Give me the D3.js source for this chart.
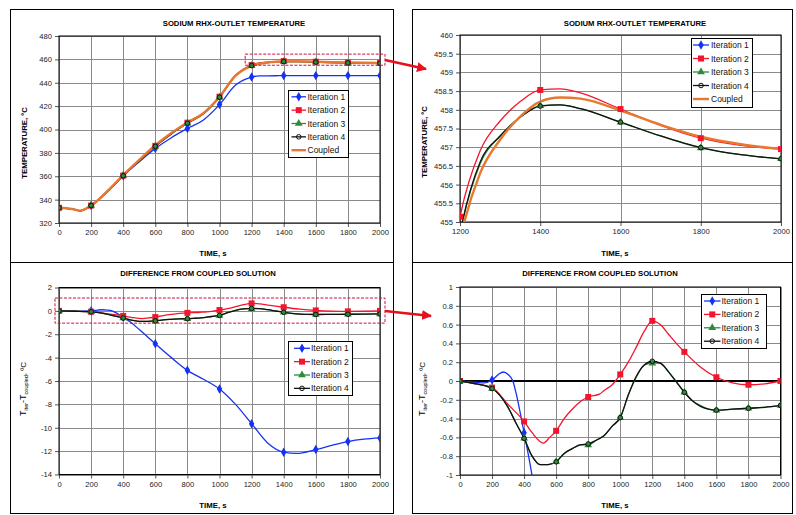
<!DOCTYPE html>
<html><head><meta charset="utf-8">
<script src="https://cdn.jsdelivr.net/npm/d3@7/dist/d3.min.js"></script>
<style>
html,body{margin:0;padding:0;background:#fff;}
svg{display:block;font-family:"Liberation Sans",Arial,sans-serif;}
</style></head>
<body><svg id="c" width="796" height="515"></svg>
<script>
// ---------------- DATA ----------------
const timeTicks = [0,200,400,600,800,1000,1200,1400,1600,1800,2000];
const zoomTimeTicks = [1200,1400,1600,1800,2000];
const tempTicks = [320,340,360,380,400,420,440,460,480];
const zoomTempTicks = [455,455.5,456,456.5,457,457.5,458,458.5,459,459.5,460];
const diffTicks = [2,0,-2,-4,-6,-8,-10,-12,-14];
const zoomDiffTicks = [1,0.8,0.6,0.4,0.2,0,-0.2,-0.4,-0.6,-0.8,-1];
const seriesNames = ["Iteration 1","Iteration 2","Iteration 3","Iteration 4","Coupled"];

// temperatures (s, degC)
const tempT    = [0,100,130,200,300,400,500,600,700,800,900,1000,1100,1200,1250,1300,1350,1400,1450,1500,1600,1700,1800,1900,2000];
const coupledV = [333.0,331.5,330.5,335.0,347.0,361.0,374.0,386.5,397.0,406.0,414.0,428.0,446.0,454.5,456.3,457.2,457.82,458.22,458.33,458.3,457.98,457.6,457.28,457.08,456.95];
const temp1V   = [333.0,331.5,330.5,335.0,347.1,360.5,372.4,383.7,393.0,400.9,408.2,421.3,438.0,444.9,445.8,445.9,446.0,446.1,446.1,446.1,446.1,446.1,446.1,446.1,446.1];
const temp2V   = [333.0,331.47,330.46,334.93,346.75,360.57,373.36,385.97,396.7,405.83,413.9,428.07,446.35,455.14,456.9,457.7,458.22,458.53,458.56,458.45,458.02,457.58,457.24,457.05,456.95];
const temp3V   = [333.0,331.47,330.46,334.92,346.7,360.39,373.11,385.64,396.28,405.32,413.45,427.61,446.05,454.69,456.55,457.3,457.8,458.11,458.13,458.03,457.67,457.3,456.98,456.8,456.69];
const temp4V   = [333.0,331.47,330.46,334.92,346.7,360.39,373.11,385.64,396.28,405.33,413.45,427.6,446.05,454.7,456.6,457.3,457.8,458.1,458.13,458.03,457.67,457.3,456.99,456.8,456.69];

// differences from coupled solution (degC)
const diff1T = [0,100,150,200,240,270,300,330,350,384,400,447,500,600,700,800,900,1000,1100,1200,1300,1400,1480,1600,1700,1800,1900,2000];
const diff1V = [0,-0.015,-0.02,0.01,0.07,0.096,0.07,0.0,-0.13,-0.41,-0.55,-0.98,-1.6,-2.81,-4.0,-5.09,-5.85,-6.68,-8.0,-9.65,-11.3,-12.09,-12.2,-11.87,-11.5,-11.18,-10.98,-10.87];
const diff2T = [0,100,200,300,400,450,520,560,600,650,700,750,800,870,900,950,1000,1050,1100,1150,1200,1250,1300,1350,1400,1500,1600,1700,1800,1900,2000];
const diff2V = [0,-0.03,-0.07,-0.25,-0.43,-0.55,-0.66,-0.6,-0.53,-0.4,-0.3,-0.22,-0.17,-0.14,-0.1,-0.04,0.07,0.2,0.36,0.53,0.64,0.6,0.5,0.4,0.31,0.15,0.04,-0.02,-0.04,-0.03,0.0];
const diff34T = [0,100,200,300,350,400,450,500,550,600,650,700,750,800,850,900,950,1000,1050,1100,1150,1200,1250,1300,1350,1400,1450,1500,1550,1600,1700,1800,1900,2000];
const diff3V = [0,-0.03,-0.08,-0.28,-0.45,-0.61,-0.8,-0.89,-0.89,-0.86,-0.77,-0.72,-0.68,-0.68,-0.63,-0.58,-0.48,-0.39,-0.15,0.04,0.17,0.19,0.19,0.1,-0.01,-0.12,-0.21,-0.26,-0.3,-0.31,-0.3,-0.29,-0.28,-0.26];
const diff4V = [0,-0.03,-0.08,-0.28,-0.45,-0.61,-0.8,-0.89,-0.89,-0.86,-0.77,-0.72,-0.68,-0.67,-0.63,-0.58,-0.48,-0.39,-0.15,0.05,0.17,0.21,0.19,0.1,-0.01,-0.12,-0.21,-0.27,-0.3,-0.31,-0.3,-0.29,-0.28,-0.26];

// ---------------- STYLE ----------------
const styles = {
  "Iteration 1": {color:"#1432f5", w:1.3, sym:"diamond"},
  "Iteration 2": {color:"#f5142d", w:1.3, sym:"square"},
  "Iteration 3": {color:"#2e8b3a", w:1.3, sym:"triangle"},
  "Iteration 4": {color:"#111111", w:1.3, sym:"circle"},
  "Coupled":     {color:"#e8782f", w:2.4, sym:null}
};
const FONT = '"Liberation Sans",Arial,sans-serif';
const svg = d3.select("#c");
svg.append("rect").attr("width",796).attr("height",515).attr("fill","#fff");

function zip(t,v){ return t.map((d,i)=>({t:d,v:v[i]})); }

function drawMarker(g, sym, cx, cy, color){
  if(sym==="diamond"){
    g.append("path").attr("d",d3.symbol(d3.symbolDiamond,26)()).attr("transform",`translate(${cx},${cy})`).attr("fill",color);
  } else if(sym==="square"){
    g.append("rect").attr("x",cx-3).attr("y",cy-3).attr("width",6).attr("height",6).attr("fill",color);
  } else if(sym==="triangle"){
    g.append("path").attr("d",d3.symbol(d3.symbolTriangle,26)()).attr("transform",`translate(${cx},${cy})`).attr("fill",color);
  } else if(sym==="circle"){
    g.append("circle").attr("cx",cx).attr("cy",cy).attr("r",2.3).attr("fill","none").attr("stroke",color).attr("stroke-width",1);
  }
}

let clipId = 0;
function panel(o){
  const g = svg.append("g");
  // panel frame
  g.append("rect").attr("x",o.frame[0]+0.5).attr("y",o.frame[1]+0.5).attr("width",o.frame[2]).attr("height",o.frame[3])
    .attr("fill","none").attr("stroke","#000").attr("stroke-width",1);
  const x = d3.scaleLinear().domain(o.xDom).range([o.x0,o.x1]);
  const y = d3.scaleLinear().domain(o.yDom).range([o.y1,o.y0]);
  // grid
  g.append("g").selectAll("line").data(o.yTicks).join("line")
    .attr("x1",o.x0).attr("x2",o.x1).attr("y1",d=>Math.round(y(d))+0.5).attr("y2",d=>Math.round(y(d))+0.5)
    .attr("stroke","#8a8a8a").attr("stroke-width",1);
  g.append("g").selectAll("line").data(o.xTicks).join("line")
    .attr("y1",o.y0).attr("y2",o.y1).attr("x1",d=>Math.round(x(d))+0.5).attr("x2",d=>Math.round(x(d))+0.5)
    .attr("stroke","#8a8a8a").attr("stroke-width",1);
  // axes
  const ya = g.append("g").attr("transform",`translate(${o.x0},0)`)
    .call(d3.axisLeft(y).tickValues(o.yTicks).tickSize(4).tickPadding(3).tickFormat(o.yFmt||(d=>d)));
  const xa = g.append("g").attr("transform",`translate(0,${o.y1})`)
    .call(d3.axisBottom(x).tickValues(o.xTicks).tickSize(4).tickPadding(3).tickFormat(d=>d));
  [ya,xa].forEach(a=>{
    a.select(".domain").remove();
    a.selectAll(".tick line").attr("stroke","#555");
    a.selectAll("text").attr("font-family",FONT).attr("font-size",7.6).attr("fill","#222");
  });
  if(o.zeroLine){
    g.append("line").attr("x1",o.x0).attr("x2",o.x1).attr("y1",y(0)).attr("y2",y(0)).attr("stroke","#000").attr("stroke-width",2.2);
  }
  // border
  g.append("rect").attr("x",o.x0).attr("y",o.y0).attr("width",o.x1-o.x0).attr("height",o.y1-o.y0)
    .attr("fill","none").attr("stroke","#000").attr("stroke-width",1);
  // clip
  const cid = "clip"+(clipId++);
  g.append("clipPath").attr("id",cid).append("rect").attr("x",o.x0).attr("y",o.y0).attr("width",o.x1-o.x0).attr("height",o.y1-o.y0);
  const dg = g.append("g").attr("clip-path",`url(#${cid})`);
  const line = d3.line().x(d=>x(d.t)).y(d=>y(d.v)).curve(d3.curveMonotoneX);
  o.series.forEach(s=>{
    const st = styles[s.name];
    dg.append("path").datum(zip(s.t,s.v)).attr("d",line).attr("fill","none")
      .attr("stroke",st.color).attr("stroke-width",st.w).attr("stroke-linejoin","round");
  });
  o.series.forEach(s=>{
    const st = styles[s.name];
    if(!st.sym) return;
    zip(s.t,s.v).filter(d=>d.t%200===0 && d.t>=o.xDom[0] && d.t<=o.xDom[1]).forEach(d=>{
      drawMarker(dg, st.sym, x(d.t), y(d.v), st.color);
    });
  });
  // titles
  g.append("text").attr("x",o.title[1]).attr("y",o.title[2]).attr("text-anchor","middle")
    .attr("font-family",FONT).attr("font-size",7.7).attr("font-weight","bold").text(o.title[0]);
  g.append("text").attr("x",o.xTitle[0]).attr("y",o.xTitle[1]).attr("text-anchor","middle")
    .attr("font-family",FONT).attr("font-size",7.8).attr("font-weight","bold").text("TIME, s");
  const yt = g.append("text").attr("transform",`translate(${o.yTitle[0]},${o.yTitle[1]}) rotate(-90)`)
    .attr("text-anchor","middle").attr("font-family",FONT).attr("font-size",7.8).attr("font-weight","bold");
  if(o.diffTitle){
    yt.attr("font-weight","normal");
    yt.append("tspan").attr("font-size",9).text("T");
    yt.append("tspan").attr("font-size",5.5).attr("dy",2).text("iter");
    yt.append("tspan").attr("font-size",9).attr("dy",-2).text("-T");
    yt.append("tspan").attr("font-size",5.5).attr("dy",2).text("coupled");
    yt.append("tspan").attr("font-size",8).attr("dy",-2).text(", ºC");
  } else {
    yt.text("TEMPERATURE, ºC");
  }
  // legend
  const L = o.legend;
  const lg = g.append("g");
  lg.append("rect").attr("x",L.x+0.5).attr("y",L.y+0.5).attr("width",L.w).attr("height",L.h)
    .attr("fill","#fff").attr("stroke","#000").attr("stroke-width",1);
  L.items.forEach((name,i)=>{
    const st = styles[name];
    const cy = L.y + L.first + i*L.step;
    lg.append("line").attr("x1",L.x+L.l0).attr("x2",L.x+L.l1).attr("y1",cy).attr("y2",cy)
      .attr("stroke",st.color).attr("stroke-width",st.w);
    if(st.sym) drawMarker(lg, st.sym, L.x+(L.l0+L.l1)/2, cy, st.color);
    lg.append("text").attr("x",L.x+L.tx).attr("y",cy+3).attr("font-family",FONT).attr("font-size",8.5)
      .attr("fill","#111").text(name);
  });
  return {x,y};
}

const tempSeries = [
  {name:"Iteration 1", t:tempT, v:temp1V},
  {name:"Iteration 2", t:tempT, v:temp2V},
  {name:"Iteration 3", t:tempT, v:temp3V},
  {name:"Iteration 4", t:tempT, v:temp4V},
  {name:"Coupled", t:tempT, v:coupledV}
];
const diffSeries = [
  {name:"Iteration 1", t:diff1T, v:diff1V},
  {name:"Iteration 2", t:diff2T, v:diff2V},
  {name:"Iteration 3", t:diff34T, v:diff3V},
  {name:"Iteration 4", t:diff34T, v:diff4V}
];

const p1 = panel({frame:[10,9,383,253], x0:59,x1:380,y0:36,y1:223, xDom:[0,2000], yDom:[320,480],
  xTicks:timeTicks, yTicks:tempTicks, series:tempSeries,
  title:["SODIUM RHX-OUTLET TEMPERATURE",234,25.5], xTitle:[213,255.5], yTitle:[26.5,143],
  legend:{x:288,y:90,w:60,h:67,items:seriesNames,first:6.8,step:13.35,l0:3.5,l1:18,tx:19.5}});
const p2 = panel({frame:[412,9,380,253], x0:460,x1:781,y0:35,y1:222, xDom:[1200,2000], yDom:[455,460],
  xTicks:zoomTimeTicks, yTicks:zoomTempTicks, yFmt:d=>d, series:tempSeries,
  title:["SODIUM RHX-OUTLET TEMPERATURE",635,25.5], xTitle:[615,255.5], yTitle:[426.5,142],
  legend:{x:691,y:38,w:61,h:69,items:seriesNames,first:7,step:13.5,l0:2,l1:18,tx:20}});
const p3 = panel({frame:[10,262,383,251], x0:59,x1:380,y0:287.5,y1:474.5, xDom:[0,2000], yDom:[-14,2],
  xTicks:timeTicks, yTicks:diffTicks, series:diffSeries, diffTitle:true,
  title:["DIFFERENCE FROM COUPLED SOLUTION",198,276], xTitle:[213,507.5], yTitle:[26,389],
  legend:{x:288,y:341,w:64,h:54,items:seriesNames.slice(0,4),first:7.3,step:13.35,l0:6,l1:22,tx:23}});
const p4 = panel({frame:[412,262,380,251], x0:460,x1:780.5,y0:287,y1:475, xDom:[0,2000], yDom:[-1,1],
  xTicks:timeTicks, yTicks:zoomDiffTicks, series:diffSeries, diffTitle:true, zeroLine:true,
  title:["DIFFERENCE FROM COUPLED SOLUTION",600,276], xTitle:[615,507.5], yTitle:[425,389],
  legend:{x:701,y:294,w:65,h:54,items:seriesNames.slice(0,4),first:7,step:13.4,l0:3,l1:19.5,tx:20.5}});

// highlight boxes (zoom regions) and arrows
const hl = svg.append("g");
function hbox(p, t0, t1, v0, v1, padR){
  hl.append("rect").attr("x",p.x(t0)).attr("y",p.y(v1)).attr("width",p.x(t1)-p.x(t0)+padR).attr("height",p.y(v0)-p.y(v1))
    .attr("fill","none").attr("stroke","#d0103a").attr("stroke-width",1).attr("stroke-dasharray","3,1.5");
}
hbox(p1, 1160, 2000, 455, 464.5, 5);
hbox(p3, -25, 2000, -1.05, 1.1, 5);
svg.append("defs").append("marker").attr("id","ah").attr("viewBox","0 0 10 10").attr("refX",9).attr("refY",5)
  .attr("markerWidth",4).attr("markerHeight",4).attr("orient","auto")
  .append("path").attr("d","M0,0L10,5L0,10z").attr("fill","#e8101e");
function arrow(x1,y1,x2,y2){
  hl.append("line").attr("x1",x1).attr("y1",y1).attr("x2",x2).attr("y2",y2)
    .attr("stroke","#e8101e").attr("stroke-width",2.5).attr("marker-end","url(#ah)");
}
arrow(385,60,426,69);
arrow(385,311,431,316);
</script></body></html>
